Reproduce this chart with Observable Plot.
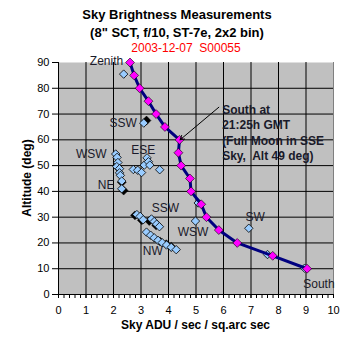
<!DOCTYPE html>
<html><head><meta charset="utf-8">
<script src="https://cdn.jsdelivr.net/npm/d3@7"></script>
<script src="https://cdn.jsdelivr.net/npm/@observablehq/plot@0.6"></script>
<style>
body{margin:0;background:#fff;font-family:"Liberation Sans",Arial,sans-serif;}
#wrap{position:relative;width:352px;height:337px;overflow:hidden;}
.t{position:absolute;left:0;width:354px;text-align:center;white-space:pre;line-height:1;color:#000;}
</style></head><body>
<div id="wrap">
<div id="chart"></div>
<div class="t" style="top:8px;font-size:13px;font-weight:bold">Sky Brightness Measurements</div>
<div class="t" style="top:26px;font-size:13px;font-weight:bold">(8" SCT, f/10, ST-7e, 2x2 bin)</div>
<div class="t" style="top:42px;left:9px;font-size:12px;color:#ff0000">2003-12-07  S00055</div>
<div class="t" style="top:319px;left:58px;width:275px;font-size:12px;font-weight:bold">Sky ADU / sec / sq.arc sec</div>
<div style="position:absolute;left:27px;top:178px;transform:translate(-50%,-50%) rotate(-90deg);font-size:12px;font-weight:bold;white-space:nowrap;line-height:1">Altitude (deg)</div>
</div>
<script>
// Main series (South meridian scan)
const altMain = [90,85,80,75,70,65,60,55,50,45,40,35,30,25,20,15,10];
const aduMain = [2.6,2.75,2.95,3.27,3.55,3.87,4.4,4.36,4.46,4.78,4.82,5.19,5.38,5.83,6.5,7.79,9.04];

// Other directions (light blue)
const aduOther = [2.37,3.1,
  2.08,2.13,2.16,2.12,2.22,2.22,2.25,2.3,2.3,
  2.72,2.88,3.02,3.12,3.22,3.27,3.32,3.68,
  2.85,2.97,3.08,3.38,3.48,3.57,3.67,
  3.2,3.35,3.48,3.62,3.77,3.93,4.1,4.28,
  4.98,5.08,6.92,7.6,8.95];
const altOther = [85.5,66.5,
  54.5,53.2,51.2,49.6,48.8,47.2,46.2,44,41,
  48.5,48.2,47.3,50.2,53,51.5,50.2,48.4,
  31,30.3,29,29.3,28.3,27.3,26.3,
  24.2,23,22,21,20.1,19.2,18.3,17.4,
  28.5,35.5,25.7,15.5,10.2];

// Dark series
const aduDark = [3.2,2.3,2.37,2.78,3.03,3.3,3.55,3.7,3.92,4.1];
const altDark = [67.5,43.5,40.3,30.7,28.8,28.5,26.8,20.5,19.5,18.5];

// Direction labels
const labelText = ["Zenith","SSW","WSW","ESE","NE","SSW","NW","WSW","SW","South"];
const labelX = [1.745,2.35,1.19,3.08,1.73,3.89,3.43,4.89,7.15,9.47];
const labelY = [90.4,66.4,54.3,55.9,42.6,33.6,16.7,24.2,30,4.15];

const annotText = "South at\n21:25h GMT\n(Full Moon in SSE\nSky,  Alt 49 deg)";

const xTicks = [0,1,2,3,4,5,6,7,8,9,10];
const yTicks = [0,10,20,30,40,50,60,70,80,90];
const gridXTicks = [1,2,3,4,5,6,7,8,9];
const gridYTicks = [10,20,30,40,50,60,70,80];
const minorTicks = d3.range(0, 10.001, 0.2).map(v => +v.toFixed(1));

const main = altMain.map((a,i)=>({x:aduMain[i], y:a}));
const other = altOther.map((a,i)=>({x:aduOther[i], y:a}));
const dark = altDark.map((a,i)=>({x:aduDark[i], y:a}));
const labels = labelText.map((t,i)=>({t, x:labelX[i], y:labelY[i]}));

const chart = Plot.plot({
  width:352, height:337,
  marginLeft:58, marginRight:19, marginTop:62, marginBottom:43,
  style:{fontFamily:"Liberation Sans, Arial, sans-serif", fontSize:"11px", color:"#000", background:"transparent"},
  x:{domain:[0,10]},
  y:{domain:[0,90]},
  marks:[
    Plot.frame({fill:"#c0c0c0", stroke:null}),
    Plot.gridX(gridXTicks, {stroke:"#000", strokeOpacity:1}),
    Plot.gridY(gridYTicks, {stroke:"#000", strokeOpacity:1}),
    Plot.ruleX([10], {stroke:"#808080"}),
    Plot.axisX(minorTicks, {tickSize:4, tickFormat:()=>"", label:null}),
    Plot.axisX(xTicks, {tickSize:4, tickPadding:8, label:null, fill:"#000"}),
    Plot.axisY(yTicks, {tickSize:6, tickPadding:3, label:null, fill:"#000"}),
    Plot.ruleX([0], {stroke:"#000"}),
    Plot.ruleY([0], {stroke:"#000"}),
    Plot.dot(dark, {x:"x", y:"y", symbol:"diamond2", r:4, fill:"#000", stroke:"#000", strokeWidth:0.5}),
    Plot.dot(other, {x:"x", y:"y", symbol:"diamond2", r:3.8, fill:"#99ccff", stroke:"#000", strokeWidth:0.8}),
    Plot.line(main, {x:"x", y:"y", stroke:"#000080", strokeWidth:3}),
    Plot.dot(main, {x:"x", y:"y", symbol:"diamond2", r:4, fill:"#ff00ff", stroke:"#000", strokeWidth:0.6}),
    Plot.text(labels, {x:"x", y:"y", text:"t", fill:"#1a1a2a", fontSize:12}),
    Plot.arrow([{x1:5.83, y1:72.65, x2:4.42, y2:60}], {x1:"x1", y1:"y1", x2:"x2", y2:"y2", stroke:"#000", strokeWidth:1, headLength:7}),
    Plot.text([annotText], {x:5.95, y:63, text:d=>d, textAnchor:"start", lineAnchor:"middle", lineHeight:1.29, fontWeight:"bold", fontSize:12, fill:"#1a1a2a"})
  ]
});
document.getElementById("chart").appendChild(chart);
</script>
</body></html>
